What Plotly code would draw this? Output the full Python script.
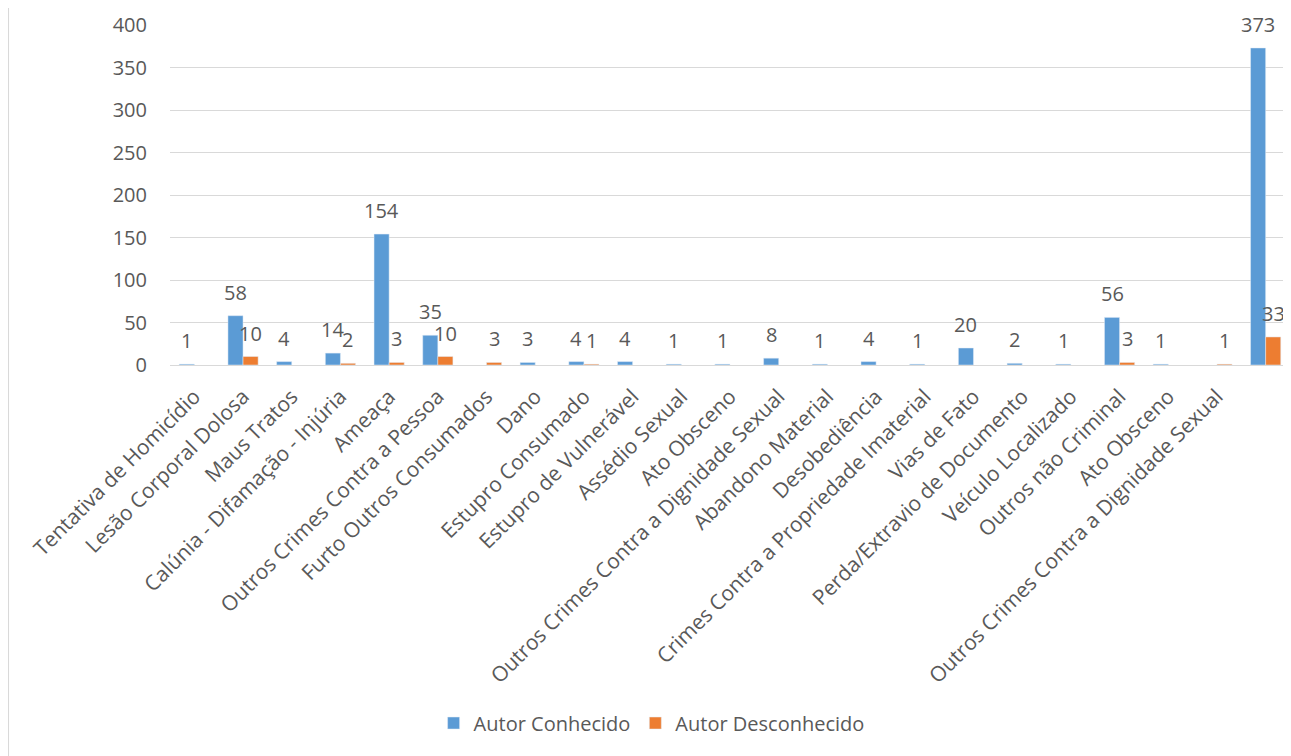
import plotly.graph_objects as go

categories = [
    "Tentativa de Homicídio", "Lesão Corporal Dolosa", "Maus Tratos",
    "Calúnia - Difamação - Injúria", "Ameaça", "Outros Crimes Contra a Pessoa",
    "Furto Outros Consumados", "Dano", "Estupro Consumado", "Estupro de Vulnerável",
    "Assédio Sexual", "Ato Obsceno", "Outros Crimes Contra a Dignidade Sexual",
    "Abandono Material", "Desobediência", "Crimes Contra a Propriedade Imaterial",
    "Vias de Fato", "Perda/Extravio de Documento", "Veículo Localizado",
    "Outros não Criminal", "Ato Obsceno", "Outros Crimes Contra a Dignidade Sexual", "",
]
autor_conhecido = [1, 58, 4, 14, 154, 35, None, 3, 4, 4, 1, 1, 8, 1, 4, 1, 20, 2, 1, 56, 1, None, 373]
autor_desconhecido = [None, 10, None, 2, 3, 10, 3, None, 1, None, None, None, None, None, None, None, None, None, None, 3, None, 1, 33]
series_names = ["Autor Conhecido", "Autor Desconhecido"]
y_ticks = [0, 50, 100, 150, 200, 250, 300, 350, 400]

FONT = "Open Sans"
TXT = "#595959"
BLUE = "#5B9BD5"
ORANGE = "#ED7D31"
BARGAP = 0.38

x = list(range(len(categories)))
fig = go.Figure()
fig.add_trace(go.Bar(x=x, y=autor_conhecido, name=series_names[0], marker_color=BLUE))
fig.add_trace(go.Bar(x=x, y=autor_desconhecido, name=series_names[1], marker_color=ORANGE))

off = (1 - BARGAP) / 4
annotations = []
for vals, sign in ((autor_conhecido, -1), (autor_desconhecido, 1)):
    for i, v in enumerate(vals):
        if v is None:
            continue
        annotations.append(dict(
            x=i + sign * off, y=v, xref="x", yref="y", text=str(v), showarrow=False,
            yanchor="bottom", yshift=8, font=dict(family=FONT, size=20, color=TXT),
        ))

fig.update_layout(
    width=1283, height=748,
    margin=dict(l=162, r=1, t=17, b=391),
    paper_bgcolor="white", plot_bgcolor="white",
    barmode="group", bargap=BARGAP, bargroupgap=0,
    font=dict(family=FONT, color=TXT),
    annotations=annotations,
    showlegend=True,
    legend=dict(orientation="h", x=0.43, y=-1.053, xanchor="center", yanchor="middle",
                font=dict(family=FONT, size=20, color=TXT), itemwidth=30,
                traceorder="normal"),
    shapes=[dict(type="line", xref="paper", yref="paper", x0=-0.1446, x1=-0.1446,
                 y0=-1.2, y1=1.1, line=dict(color="#d9d9d9", width=2))],
)
fig.update_xaxes(
    range=[-0.5, len(categories) - 0.5], tickmode="array", tickvals=x, ticktext=categories,
    tickangle=-45, tickfont=dict(family=FONT, size=21, color=TXT), ticklabelstandoff=10,
    showgrid=False, showline=True, linecolor="#d9d9d9", linewidth=1, ticks="",
    zeroline=False,
)
fig.update_yaxes(
    range=[0, 400], tickmode="array", tickvals=y_ticks,
    tickfont=dict(family=FONT, size=20, color=TXT),
    showgrid=True, gridcolor="#d9d9d9", gridwidth=1, zeroline=False, showline=False,
    ticks="outside", ticklen=18, tickcolor="white",
)
fig.write_html("out.html")
